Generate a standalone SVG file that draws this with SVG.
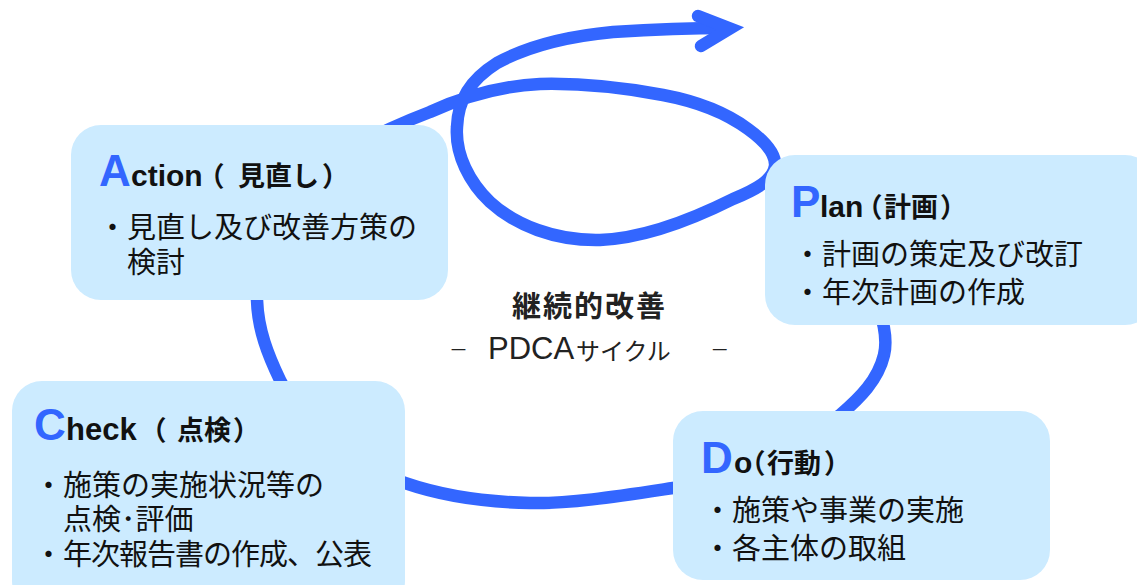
<svg xmlns="http://www.w3.org/2000/svg" width="1137" height="585" viewBox="0 0 1137 585">
<style>
.box{fill:#CCEBFF}
.flow{fill:none;stroke:#3366FF;stroke-width:12.5;stroke-linecap:round;stroke-linejoin:round}
.big{font-family:"Liberation Sans","Noto Sans CJK JP",sans-serif;font-weight:700;font-size:44px;fill:#3366FF}
.hd{font-family:"Liberation Sans","Noto Sans CJK JP",sans-serif;font-weight:700;font-size:30px;fill:#111}
.hj{font-family:"Noto Sans CJK JP",sans-serif;font-weight:700;font-size:27px;fill:#111}
.hp{font-family:"Noto Sans CJK JP",sans-serif;font-weight:700;font-size:27px;fill:#111;font-feature-settings:"halt"}
.body{font-family:"Noto Sans CJK JP",sans-serif;font-weight:400;font-size:29px;fill:#111}
.title{font-family:"Noto Sans CJK JP",sans-serif;font-weight:700;font-size:29px;fill:#222}
.sub{font-family:"Noto Sans CJK JP",sans-serif;font-weight:400;font-size:24px;fill:#222}
</style>
<rect width="1137" height="585" fill="#FFFFFF"/>
<g id="connectors">
<path class="flow" d="M 855,260 C 875,290 890,330 884,355 C 878,380 860,398 840,415 C 790,460 720,482 673,488 C 620,496 570,504 530,503 C 480,502 440,495 405,483 C 340,460 300,420 280,380 C 268,355 258,330 257,300 C 255,200 330,150 430,112 C 465,96 500,86 540,84 C 580,83 620,87 663,95 C 695,101 725,112 748,129 C 766,142 776,154 775,166 C 773,180 757,189 733,199 C 705,213 650,238 600,240 C 555,241 515,225 490,202 C 470,183 455,155 457,127 C 458,100 470,80 497,63 C 530,45 570,36 613,32 C 660,29 700,28 726,28"/>
<path class="flow" style="stroke-linejoin:miter" d="M 698,16 L 730,28.5 L 701,46"/>
</g>
<g id="action">
<rect class="box" x="71" y="125" width="377" height="175" rx="30"/>
<text y="186"><tspan class="big" x="99">A</tspan><tspan class="hd" x="131">ction</tspan><tspan class="hp" x="211">（</tspan><tspan class="hj" x="238">見直し</tspan><tspan class="hp" x="322">）</tspan></text>
<text class="body" x="98" y="238">・見直し及び改善方策の</text>
<text class="body" x="127" y="273">検討</text>
</g>
<g id="plan">
<rect class="box" x="765" y="155" width="390" height="170" rx="30"/>
<text y="217"><tspan class="big" x="791">P</tspan><tspan class="hd" x="820">lan</tspan><tspan class="hp" x="869">（</tspan><tspan class="hj" x="884">計画</tspan><tspan class="hp" x="940">）</tspan></text>
<text class="body" x="793" y="265">・計画の策定及び改訂</text>
<text class="body" x="793" y="303">・年次計画の作成</text>
</g>
<g id="do">
<rect class="box" x="673" y="411" width="377" height="169" rx="30"/>
<text y="473"><tspan class="big" x="701">D</tspan><tspan class="hd" x="734">o</tspan><tspan class="hp" x="752">（</tspan><tspan class="hj" x="767">行動</tspan><tspan class="hp" x="824">）</tspan></text>
<text class="body" x="703" y="521">・施策や事業の実施</text>
<text class="body" x="703" y="559">・各主体の取組</text>
</g>
<g id="check">
<rect class="box" x="12" y="381" width="393" height="230" rx="30"/>
<text y="440"><tspan class="big" x="34">C</tspan><tspan class="hd" x="66" style="font-size:31px">heck</tspan><tspan class="hp" x="153">（</tspan><tspan class="hj" x="177">点検</tspan><tspan class="hp" x="233">）</tspan></text>
<text class="body" x="34" y="496">・施策の実施状況等の</text>
<text class="body" x="63" y="530">点検･評価</text>
<text class="body" x="34" y="565"><tspan>・</tspan><tspan textLength="309" lengthAdjust="spacing">年次報告書の作成、公表</tspan></text>
</g>
<g id="center">
<text class="title" x="512" y="317" letter-spacing="2">継続的改善</text>
<text class="sub"><tspan x="449" y="357" style="font-size:19px">－ </tspan><tspan x="488" y="359" style="font-family:'Liberation Sans',sans-serif;font-size:31px">PDCA</tspan><tspan x="576" y="360">サイクル</tspan><tspan x="706" y="357" style="font-size:19px"> －</tspan></text>
</g>
</svg>
